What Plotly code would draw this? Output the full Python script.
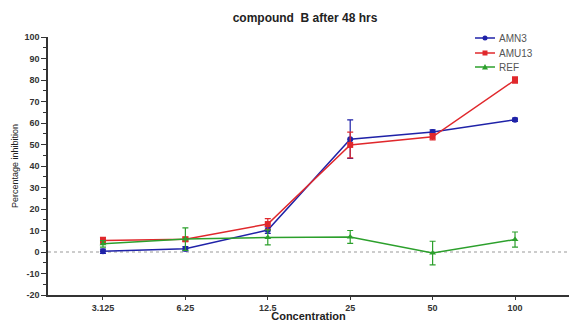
import plotly.graph_objects as go

concentrations = ["3.125", "6.25", "12.5", "25", "50", "100"]
amn3 = [0.3, 1.5, 10.2, 52.5, 55.8, 61.5]
amn3_err = [1.0, 1.0, 1.5, 9.0, 1.0, 0.8]
amu13 = [5.3, 5.9, 13.0, 49.8, 53.6, 80.0]
amu13_err = [1.5, 1.0, 2.5, 6.0, 1.5, 1.5]
ref = [3.8, 6.0, 6.8, 7.0, -0.5, 5.8]
ref_err = [1.5, 5.2, 3.5, 3.0, 5.5, 3.5]
yticks = [-20, -10, 0, 10, 20, 30, 40, 50, 60, 70, 80, 90, 100]

W, H = 569, 322
ML, MR, MT, MB = 48, 0, 37, 27
PW, PH = W - ML - MR, H - MT - MB


def px(X):
    return (X - ML) / PW


def py(Y):
    return (H - MB - Y) / PH


fig = go.Figure()
series = [
    ("AMN3", amn3, amn3_err, "#1f22a8", "circle"),
    ("AMU13", amu13, amu13_err, "#e0282c", "square"),
    ("REF", ref, ref_err, "#2ca02c", "triangle-up"),
]
for name, vals, err, col, sym in series:
    fig.add_trace(go.Scatter(
        x=concentrations, y=vals, name=name, mode="lines+markers",
        line=dict(color=col, width=1.5),
        marker=dict(color=col, size=6, symbol=sym),
        error_y=dict(type="data", array=err, color=col, thickness=1.2, width=3),
        showlegend=False,
    ))

fig.add_hline(y=0, line=dict(color="#999999", width=1, dash="dot"), layer="below")

# manual compact legend
leg_y = [38, 53, 67]
for (name, _, _, col, sym), Y in zip(series, leg_y):
    fig.add_shape(type="line", xref="paper", yref="paper",
                  x0=px(475), x1=px(495), y0=py(Y), y1=py(Y),
                  line=dict(color=col, width=1.5))
    r = 2.5
    if sym == "circle":
        fig.add_shape(type="circle", xref="paper", yref="paper",
                      x0=px(485 - r), x1=px(485 + r), y0=py(Y + r), y1=py(Y - r),
                      fillcolor=col, line=dict(color=col, width=0))
    elif sym == "square":
        fig.add_shape(type="rect", xref="paper", yref="paper",
                      x0=px(485 - r), x1=px(485 + r), y0=py(Y + r), y1=py(Y - r),
                      fillcolor=col, line=dict(color=col, width=0))
    else:
        fig.add_shape(type="path", xref="paper", yref="paper",
                      path=f"M {px(485 - r - 0.5)} {py(Y + r)} L {px(485 + r + 0.5)} {py(Y + r)} L {px(485)} {py(Y - r - 0.5)} Z",
                      fillcolor=col, line=dict(color=col, width=0))
    fig.add_annotation(x=px(497), y=py(Y), xref="paper", yref="paper",
                       text=name, showarrow=False, xanchor="left", yanchor="middle",
                       font=dict(size=10, color="#555555"))

fig.update_layout(
    width=W, height=H,
    margin=dict(l=ML, r=MR, t=MT, b=MB, autoexpand=False),
    paper_bgcolor="white", plot_bgcolor="white",
    font=dict(family="Liberation Sans, Arial", size=9, color="#222222"),
    title=dict(text="<b>compound  B after 48 hrs</b>", x=0.536, xanchor="center",
               y=1 - 18 / H, yanchor="middle", font=dict(size=12, color="#222222")),
    showlegend=False,
)
fig.update_xaxes(
    type="category", range=[-0.667, 5.655], automargin=False,
    tickvals=concentrations, ticktext=[f"<b>{c}</b>" for c in concentrations],
    showline=True, linecolor="#333333", linewidth=1.5,
    ticks="outside", ticklen=3, tickcolor="#333333",
    tickfont=dict(size=9, color="#333333"),
    showgrid=False, zeroline=False,
    title=dict(text="<b>Concentration</b>", font=dict(size=11), standoff=1),
)
fig.update_yaxes(
    range=[-20, 100], tickvals=yticks, ticktext=[f"<b>{t}</b>" for t in yticks],
    automargin=False,
    showline=True, linecolor="#333333", linewidth=1.5,
    ticks="outside", ticklen=5, tickcolor="#333333",
    minor=dict(ticks="outside", ticklen=3, dtick=5, tickcolor="#333333"),
    tickfont=dict(size=9, color="#333333"),
    showgrid=False, zeroline=False,
    title=dict(text="Percentage inhibition", font=dict(size=9), standoff=4),
)

fig.write_html("out.html", config={"displayModeBar": False},
               post_script="document.body.style.margin='0';document.body.style.padding='0';")
